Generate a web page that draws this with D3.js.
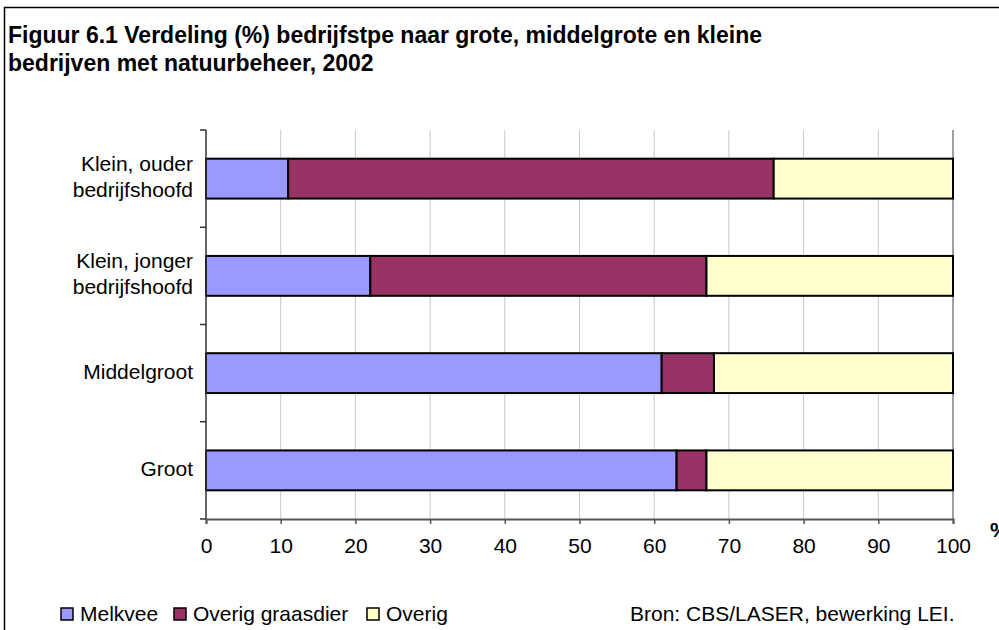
<!DOCTYPE html>
<html>
<head>
<meta charset="utf-8">
<script src="https://cdn.jsdelivr.net/npm/d3@7"></script>
<style>
  body { margin: 0; background: #fff; }
  svg { display: block; font-family: Arial, "Liberation Sans", sans-serif; }
</style>
</head>
<body>
<div id="root"></div>
<script>
// data
var categories = ["Klein, ouder|bedrijfshoofd", "Klein, jonger|bedrijfshoofd", "Middelgroot", "Groot"]
var seriesNames = ["Melkvee", "Overig graasdier", "Overig"]
var melkvee = [11, 22, 61, 63]
var overigGraasdier = [65, 45, 7, 4]
var overig = [24, 33, 32, 33]
var xTicks = [0, 10, 20, 30, 40, 50, 60, 70, 80, 90, 100]
var colors = ["#9999ff", "#993366", "#ffffcc"]

var width = 999, height = 630
var svg = d3.select("#root").append("svg")
    .attr("width", width)
    .attr("height", height)

// frame
svg.append("rect")
    .attr("x", 4.5).attr("y", 7.5)
    .attr("width", 1000).attr("height", 700)
    .attr("fill", "#fff").attr("stroke", "#000").attr("stroke-width", 1.5)

// title
var title = svg.append("text")
    .attr("x", 8).attr("y", 43)
    .attr("font-size", 23).attr("font-weight", "bold")
title.append("tspan").attr("x", 8).text("Figuur 6.1 Verdeling (%) bedrijfstpe naar grote, middelgrote en kleine")
title.append("tspan").attr("x", 8).attr("dy", 28).text("bedrijven met natuurbeheer, 2002")

var plotLeft = 206, plotRight = 953, plotTop = 130, plotBottom = 519
var x = d3.scaleLinear().domain([0, 100]).range([plotLeft, plotRight])
var y = d3.scaleBand().domain(categories).range([plotTop, plotBottom]).paddingInner(0.59).paddingOuter(0.295)

// rows for stacking
var rows = categories.map(function (c, i) {
    return { cat: c, "Melkvee": melkvee[i], "Overig graasdier": overigGraasdier[i], "Overig": overig[i] }
})
var stacked = d3.stack().keys(seriesNames)(rows)

// grid
svg.append("g").selectAll("line")
    .data(xTicks.slice(1))
    .enter().append("line")
    .attr("x1", function (d) { return x(d) }).attr("x2", function (d) { return x(d) })
    .attr("y1", plotTop).attr("y2", plotBottom)
    .attr("stroke", function (d) { return d == 100 ? "#808080" : "#c8c8c8" })
    .attr("stroke-width", function (d) { return d == 100 ? 1.5 : 1 })

// bars
svg.append("g").selectAll("g")
    .data(stacked)
    .enter().append("g")
    .attr("fill", function (d, i) { return colors[i] })
    .selectAll("rect")
    .data(function (d) { return d })
    .enter().append("rect")
    .attr("x", function (d) { return x(d[0]) })
    .attr("width", function (d) { return x(d[1]) - x(d[0]) })
    .attr("y", function (d) { return y(d.data.cat) })
    .attr("height", y.bandwidth())
    .attr("stroke", "#000").attr("stroke-width", 2)

// x axis
var xAxis = svg.append("g")
    .attr("transform", "translate(0," + plotBottom + ")")
    .call(d3.axisBottom(x).tickValues(xTicks).tickSize(5).tickPadding(14))
xAxis.select(".domain").attr("stroke", "#555").attr("stroke-width", 2)
xAxis.selectAll(".tick line").attr("stroke", "#555").attr("stroke-width", 1.5)
xAxis.selectAll("text").attr("font-size", 21).attr("font-family", "Arial, 'Liberation Sans', sans-serif").attr("fill", "#000")

// y axis line and ticks at band boundaries
var step = y.step()
var boundaries = d3.range(categories.length + 1).map(function (i) { return plotTop + i * step })
svg.append("line")
    .attr("x1", plotLeft).attr("x2", plotLeft).attr("y1", plotTop).attr("y2", plotBottom)
    .attr("stroke", "#333").attr("stroke-width", 1.5)
svg.append("g").selectAll("line")
    .data(boundaries)
    .enter().append("line")
    .attr("x1", plotLeft - 6).attr("x2", plotLeft)
    .attr("y1", function (d) { return d }).attr("y2", function (d) { return d })
    .attr("stroke", "#333").attr("stroke-width", 1.5)

// category labels
var labels = svg.append("g").selectAll("text")
    .data(categories)
    .enter().append("text")
    .attr("text-anchor", "end")
    .attr("font-size", 21)
    .attr("y", function (d) { return y(d) + y.bandwidth() / 2 })
labels.each(function (d) {
    var parts = d.split("|")
    var t = d3.select(this)
    parts.forEach(function (p, i) {
        t.append("tspan")
            .attr("x", 193)
            .attr("dy", i == 0 ? (parts.length == 1 ? 6 : -8) : 26)
            .text(p)
    })
})

// % label (cut off by the right edge, as in the original)
svg.append("text").attr("x", 990).attr("y", 537).attr("font-size", 21).attr("font-weight", "bold").text("%")

// legend
var legendX = [61, 174, 367]
var lg = svg.append("g").selectAll("g")
    .data(seriesNames)
    .enter().append("g")
    .attr("transform", function (d, i) { return "translate(" + legendX[i] + ",608)" })
lg.append("rect")
    .attr("width", 12).attr("height", 12)
    .attr("fill", function (d, i) { return colors[i] })
    .attr("stroke", "#000").attr("stroke-width", 1.5)
lg.append("text")
    .attr("x", 19).attr("y", 13)
    .attr("font-size", 21)
    .text(function (d) { return d })

svg.append("text").attr("x", 630).attr("y", 621).attr("font-size", 21)
    .text("Bron: CBS/LASER, bewerking LEI.")
</script>
</body>
</html>
